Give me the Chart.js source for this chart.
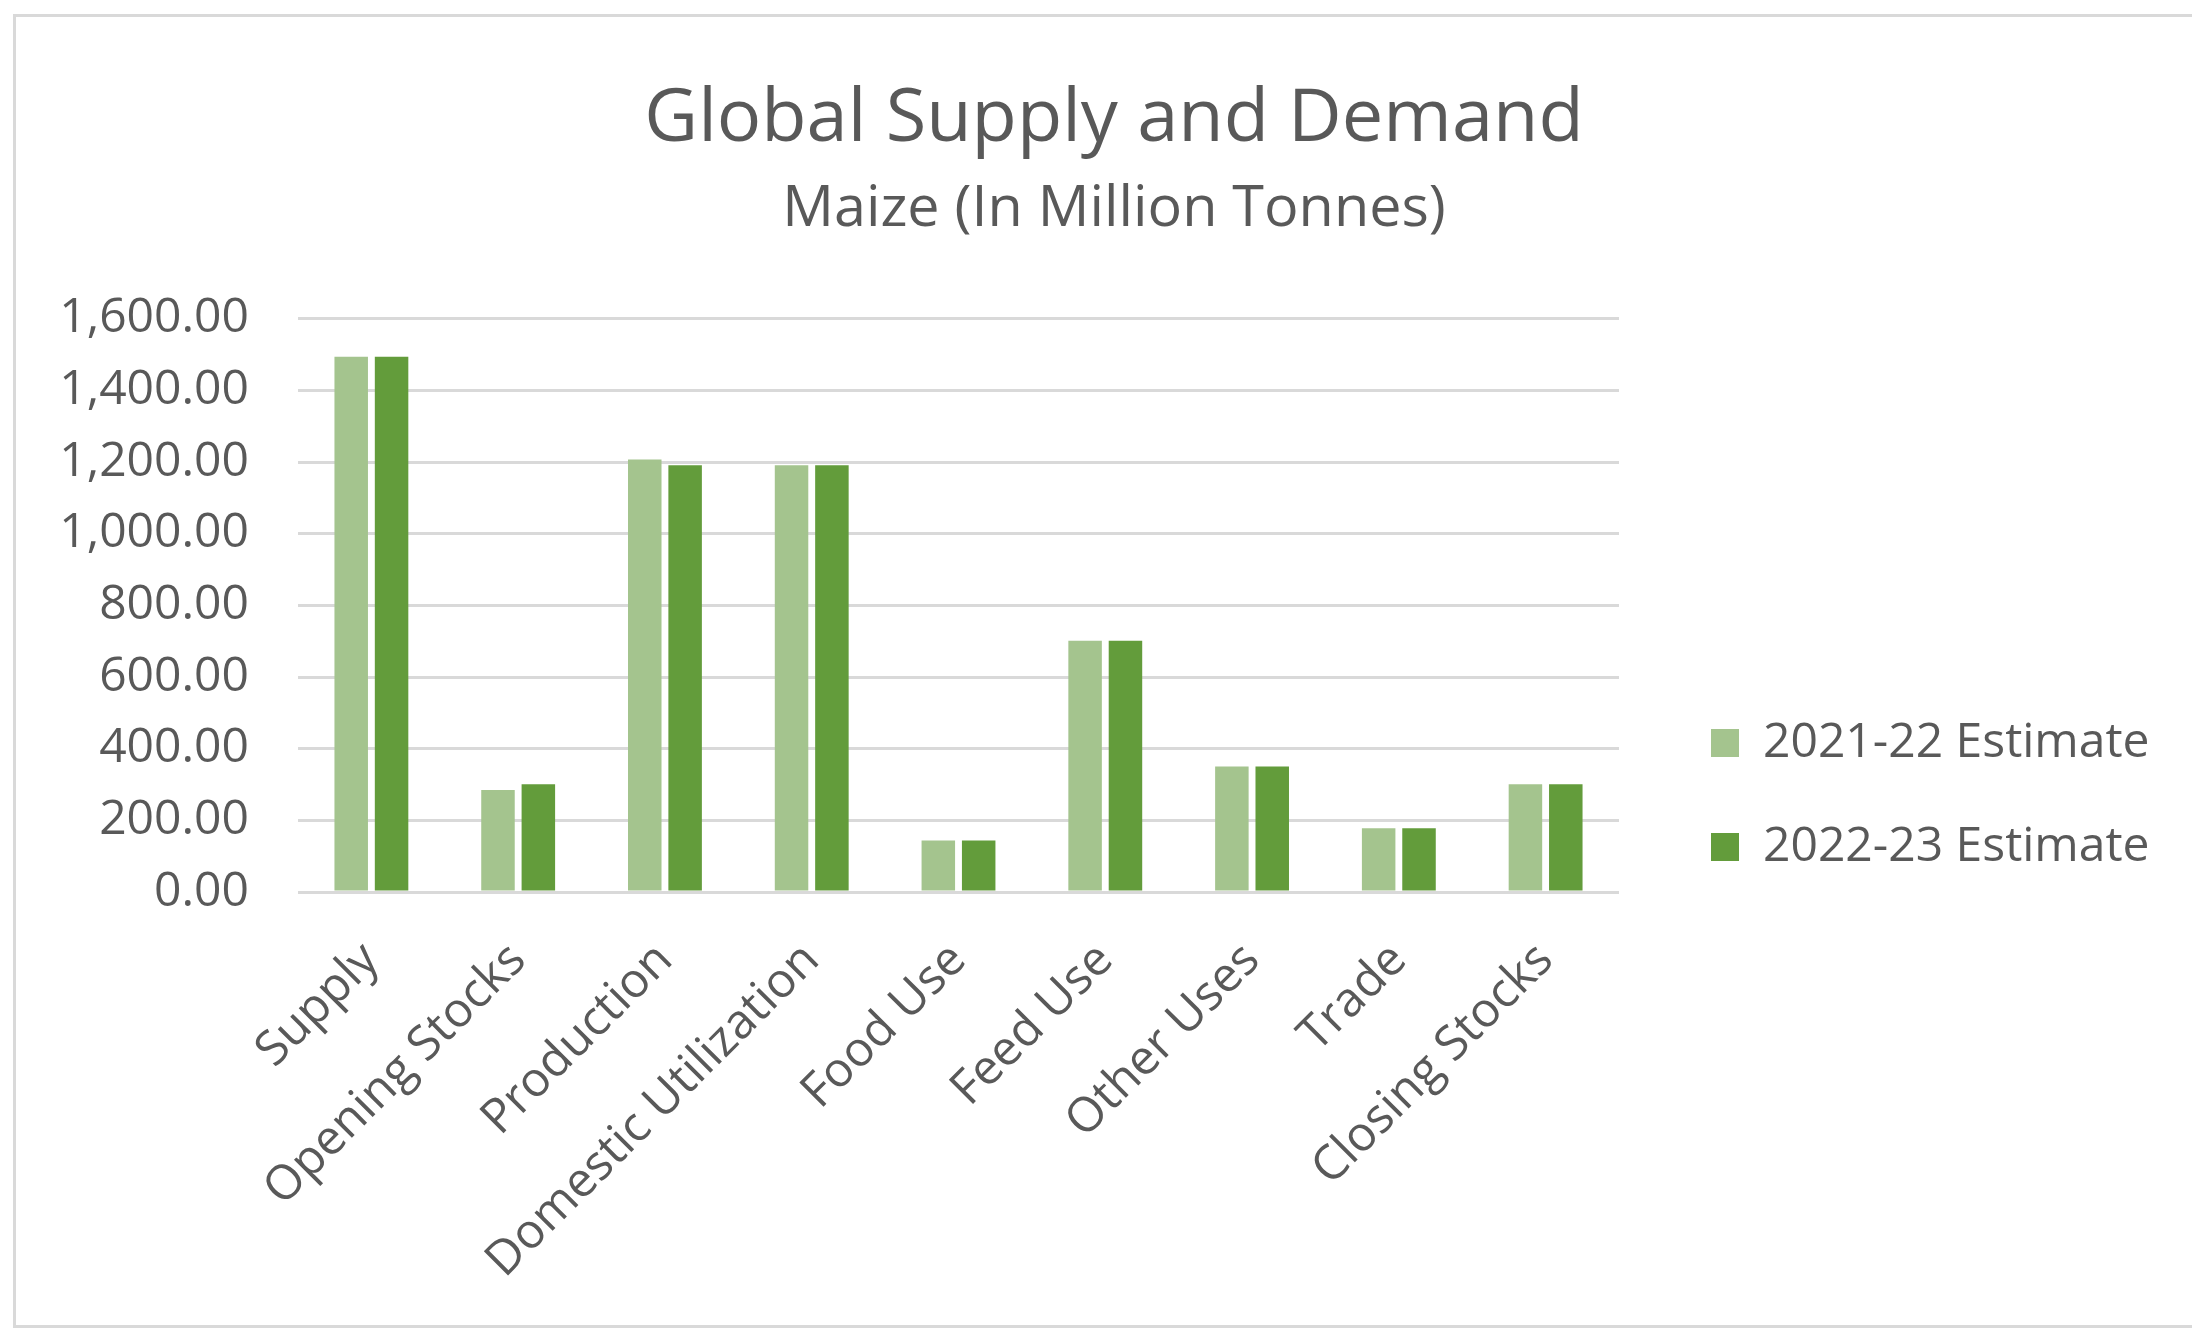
<!DOCTYPE html>
<html><head><meta charset="utf-8">
<script src="https://cdn.jsdelivr.net/npm/chart.js@4.4.1/dist/chart.umd.min.js"></script>
<style>html,body{margin:0;padding:0;background:#fff;overflow:hidden;} #wrap{width:2192px;height:1331px;position:relative;}</style>
</head><body><div id="wrap"><canvas id="c" width="2192" height="1331"></canvas></div>
<script>
const categories = ['Supply','Opening Stocks','Production','Domestic Utilization','Food Use','Feed Use','Other Uses','Trade','Closing Stocks'];
const seriesNames = ['2021-22 Estimate','2022-23 Estimate'];
const estimate2021_22 = [1494, 285, 1207, 1191, 144, 701, 350, 178, 301];
const estimate2022_23 = [1494, 301, 1191, 1191, 144, 701, 350, 178, 301];
const yTickMin = 0, yTickMax = 1600, yTickStep = 200;

const TEXT = '#595959';
const FONT = 'Open Sans';

const framePlugin = {
  id: 'frame',
  beforeDraw(chart) {
    const ctx = chart.ctx;
    ctx.save();
    ctx.fillStyle = '#ffffff';
    ctx.fillRect(0, 0, chart.width, chart.height);
    ctx.strokeStyle = '#d9d9d9';
    ctx.lineWidth = 3;
    ctx.strokeRect(14.5, 15.5, 2400, 1311);
    ctx.restore();
    const lg = chart.legend;
    if (lg) {
      const w = 560, h = 400;
      lg.left = 1655; lg.right = lg.left + w; lg.width = w;
      lg.top = 663; lg.bottom = lg.top + h; lg.height = h;
    }
  }
};

new Chart(document.getElementById('c'), {
  type: 'bar',
  data: {
    labels: categories,
    datasets: [
      { label: seriesNames[0], data: estimate2021_22, backgroundColor: '#a4c48e', yAxisID: 'y', categoryPercentage: 0.55, barPercentage: 0.83 },
      { label: seriesNames[1], data: estimate2022_23, backgroundColor: '#639c3b', yAxisID: 'y', categoryPercentage: 0.55, barPercentage: 0.83 }
    ]
  },
  options: {
    responsive: false,
    animation: false,
    devicePixelRatio: 1,
    layout: { padding: { left: 40, right: 4, top: 20, bottom: 10 } },
    plugins: {
      tooltip: { enabled: false },
      title: { display: true, text: 'Global Supply and Demand', color: TEXT, font: { family: FONT, size: 74, weight: 'normal' }, padding: { top: 56, bottom: 0 } },
      subtitle: { display: true, text: 'Maize (In Million Tonnes)', color: TEXT, font: { family: FONT, size: 57.5, weight: 'normal' }, padding: { top: 10, bottom: 75 } },
      legend: {
        display: true, position: 'chartArea', align: 'start',
        labels: { color: TEXT, font: { family: FONT, size: 48 }, boxWidth: 28, boxHeight: 28, padding: 56 }
      }
    },
    scales: {
      x: {
        offset: true,
        grid: { display: false },
        border: { display: false },
        ticks: { color: TEXT, font: { family: FONT, size: 48 }, minRotation: 45, maxRotation: 45, autoSkip: false, padding: 32 },
        afterFit(s) { s.height = 429; }
      },
      y: {
        position: 'left', min: yTickMin, max: yTickMax,
        grid: { color: '#d9d9d9', lineWidth: 3, drawTicks: false },
        border: { display: false },
        ticks: { stepSize: yTickStep, color: TEXT, font: { family: FONT, size: 48 }, padding: 49,
          callback: v => Number(v).toLocaleString('en-US', { minimumFractionDigits: 2, maximumFractionDigits: 2 }) },
        afterFit(s) { s.width = 258; }
      },
      yRight: {
        position: 'right', display: true,
        grid: { display: false }, border: { display: false }, ticks: { display: false },
        afterFit(s) { s.width = 569; }
      }
    }
  },
  plugins: [framePlugin]
});
</script></body></html>
